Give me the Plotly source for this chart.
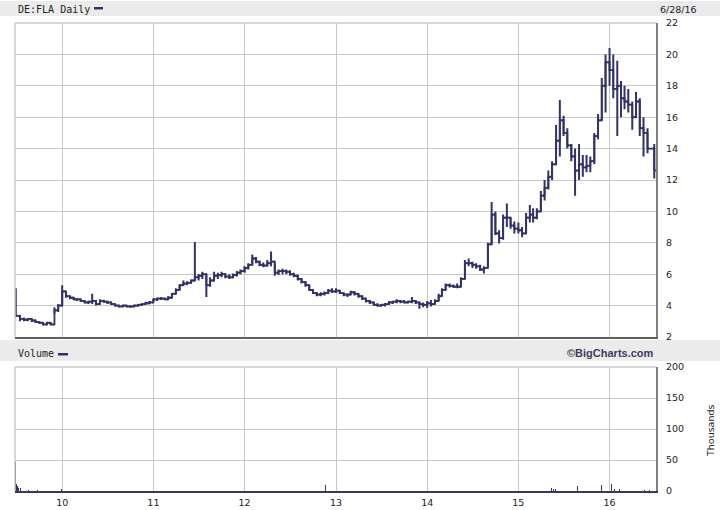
import plotly.graph_objects as go

# ---------------- data (~half-month bars) ----------------
dates = [
    "2009-06-29", "2009-07-16", "2009-08-01", "2009-08-16", "2009-09-01", "2009-09-16",
    "2009-10-01", "2009-10-16", "2009-11-01", "2009-11-16", "2009-12-01", "2009-12-16",
    "2010-01-01", "2010-01-16", "2010-02-01", "2010-02-16", "2010-03-01", "2010-03-16",
    "2010-04-01", "2010-04-16", "2010-05-01", "2010-05-16", "2010-06-01", "2010-06-16",
    "2010-07-01", "2010-07-16", "2010-08-01", "2010-08-16", "2010-09-01", "2010-09-16",
    "2010-10-01", "2010-10-16", "2010-11-01", "2010-11-16", "2010-12-01", "2010-12-16",
    "2011-01-01", "2011-01-16", "2011-02-01", "2011-02-16", "2011-03-01", "2011-03-16",
    "2011-04-01", "2011-04-16", "2011-05-01", "2011-05-16", "2011-06-01", "2011-06-16",
    "2011-07-01", "2011-07-16", "2011-08-01", "2011-08-16", "2011-09-01", "2011-09-16",
    "2011-10-01", "2011-10-16", "2011-11-01", "2011-11-16", "2011-12-01", "2011-12-16",
    "2012-01-01", "2012-01-16", "2012-02-01", "2012-02-16", "2012-03-01", "2012-03-16",
    "2012-04-01", "2012-04-16", "2012-05-01", "2012-05-16", "2012-06-01", "2012-06-16",
    "2012-07-01", "2012-07-16", "2012-08-01", "2012-08-16", "2012-09-01", "2012-09-16",
    "2012-10-01", "2012-10-16", "2012-11-01", "2012-11-16", "2012-12-01", "2012-12-16",
    "2013-01-01", "2013-01-16", "2013-02-01", "2013-02-16", "2013-03-01", "2013-03-16",
    "2013-04-01", "2013-04-16", "2013-05-01", "2013-05-16", "2013-06-01", "2013-06-16",
    "2013-07-01", "2013-07-16", "2013-08-01", "2013-08-16", "2013-09-01", "2013-09-16",
    "2013-10-01", "2013-10-16", "2013-11-01", "2013-11-16", "2013-12-01", "2013-12-16",
    "2014-01-01", "2014-01-16", "2014-02-01", "2014-02-16", "2014-03-01", "2014-03-16",
    "2014-04-01", "2014-04-16", "2014-05-01", "2014-05-16", "2014-06-01", "2014-06-16",
    "2014-07-01", "2014-07-16", "2014-08-01", "2014-08-16", "2014-09-01", "2014-09-16",
    "2014-10-01", "2014-10-16", "2014-11-01", "2014-11-16", "2014-12-01", "2014-12-16",
    "2015-01-01", "2015-01-16", "2015-02-01", "2015-02-16", "2015-03-01", "2015-03-16",
    "2015-04-01", "2015-04-16", "2015-05-01", "2015-05-16", "2015-06-01", "2015-06-16",
    "2015-07-01", "2015-07-16", "2015-08-01", "2015-08-16", "2015-09-01", "2015-09-16",
    "2015-10-01", "2015-10-16", "2015-11-01", "2015-11-16", "2015-12-01", "2015-12-16",
    "2016-01-01", "2016-01-16", "2016-02-01", "2016-02-16", "2016-03-01", "2016-03-16",
    "2016-04-01", "2016-04-16", "2016-05-01", "2016-05-16", "2016-06-01", "2016-06-28",
]

lows = [
    3.30, 3.00, 3.00, 3.00, 2.95, 2.90, 2.85, 2.75, 2.75, 2.75, 3.50, 3.60,
    4.00, 4.50, 4.40, 4.35, 4.30, 4.25, 4.15, 4.10, 4.10, 4.00, 4.20, 4.20,
    4.10, 4.05, 3.95, 3.90, 3.90, 3.90, 3.87, 3.90, 3.95, 4.00, 4.10, 4.10,
    4.25, 4.30, 4.35, 4.35, 4.35, 4.50, 4.75, 5.00, 5.30, 5.30, 5.40, 5.60,
    5.60, 5.70, 4.55, 5.20, 5.60, 5.70, 5.80, 5.75, 5.70, 5.75, 5.85, 6.00,
    6.10, 6.30, 6.60, 6.70, 6.50, 6.45, 6.50, 6.50, 5.90, 5.95, 6.00, 6.00,
    5.90, 5.80, 5.60, 5.40, 5.20, 4.95, 4.75, 4.60, 4.60, 4.65, 4.75, 4.80,
    4.80, 4.75, 4.60, 4.55, 4.70, 4.65, 4.50, 4.35, 4.20, 4.10, 4.00, 3.95,
    3.95, 3.95, 4.05, 4.10, 4.15, 4.15, 4.15, 4.15, 4.15, 4.10, 3.80, 3.90,
    3.85, 3.95, 4.10, 4.30, 4.60, 5.00, 5.15, 5.15, 5.10, 5.20, 5.70, 6.50,
    6.40, 6.35, 6.20, 6.05, 6.40, 7.90, 8.50, 7.95, 8.20, 9.00, 8.90, 8.60,
    8.60, 8.35, 8.60, 9.30, 9.30, 9.50, 10.0, 10.7, 11.4, 12.0, 13.0, 13.5,
    14.8, 14.0, 13.2, 11.0, 12.0, 12.2, 12.5, 12.5, 13.0, 14.6, 15.8, 16.3,
    18.0, 17.2, 14.8, 16.0, 16.5, 16.3, 15.2, 16.0, 14.8, 13.5, 13.7, 12.1,
]

highs = [
    5.10, 3.35, 3.25, 3.20, 3.15, 3.10, 3.00, 2.95, 2.95, 2.90, 3.90, 4.10,
    5.30, 4.90, 4.60, 4.55, 4.45, 4.40, 4.35, 4.30, 4.75, 4.35, 4.40, 4.38,
    4.30, 4.25, 4.10, 4.05, 4.05, 4.00, 4.00, 4.05, 4.10, 4.15, 4.25, 4.30,
    4.45, 4.50, 4.55, 4.50, 4.60, 4.80, 5.10, 5.35, 5.60, 5.55, 5.65, 8.05,
    6.00, 6.15, 6.00, 5.80, 6.15, 6.10, 6.15, 6.05, 6.00, 6.05, 6.20, 6.30,
    6.50, 6.70, 7.25, 7.10, 6.85, 6.75, 6.90, 7.45, 6.70, 6.30, 6.35, 6.30,
    6.25, 6.10, 5.95, 5.75, 5.55, 5.30, 5.00, 4.85, 4.85, 4.90, 5.05, 5.10,
    5.10, 5.00, 4.80, 4.75, 4.95, 4.90, 4.75, 4.65, 4.45, 4.35, 4.25, 4.15,
    4.10, 4.15, 4.30, 4.30, 4.40, 4.35, 4.35, 4.30, 4.55, 4.35, 4.25, 4.20,
    4.30, 4.35, 4.40, 4.75, 5.10, 5.40, 5.40, 5.35, 5.40, 5.80, 6.90, 7.00,
    6.80, 6.70, 6.60, 6.50, 8.00, 10.6, 10.0, 8.80, 9.80, 10.5, 9.60, 9.35,
    9.30, 9.00, 9.90, 10.4, 10.2, 10.2, 11.3, 12.0, 12.6, 13.2, 15.5, 17.1,
    16.1, 15.3, 14.3, 14.0, 14.3, 13.6, 13.6, 13.5, 15.0, 16.2, 18.5, 20.0,
    20.4, 20.0, 19.6, 18.3, 18.0, 17.8, 17.0, 17.6, 17.2, 16.0, 15.3, 14.3,
]

closes = [
    3.35, 3.15, 3.10, 3.15, 3.05, 2.95, 2.90, 2.80, 2.90, 2.80, 3.70, 4.00,
    4.90, 4.60, 4.50, 4.40, 4.40, 4.30, 4.20, 4.25, 4.30, 4.10, 4.30, 4.25,
    4.20, 4.10, 4.00, 3.95, 4.00, 3.95, 3.95, 4.00, 4.05, 4.10, 4.15, 4.20,
    4.40, 4.45, 4.45, 4.40, 4.50, 4.75, 5.00, 5.30, 5.40, 5.45, 5.60, 5.80,
    5.90, 6.00, 5.30, 5.60, 5.90, 5.95, 6.00, 5.85, 5.80, 5.95, 6.10, 6.20,
    6.40, 6.60, 7.00, 6.80, 6.60, 6.55, 6.70, 6.80, 6.10, 6.20, 6.20, 6.15,
    6.00, 5.90, 5.70, 5.50, 5.30, 5.00, 4.80, 4.70, 4.75, 4.80, 4.95, 4.90,
    4.95, 4.80, 4.70, 4.70, 4.85, 4.75, 4.60, 4.45, 4.30, 4.20, 4.05, 4.00,
    4.05, 4.10, 4.20, 4.25, 4.30, 4.25, 4.20, 4.25, 4.30, 4.20, 4.10, 4.05,
    4.15, 4.10, 4.30, 4.60, 5.00, 5.30, 5.25, 5.20, 5.20, 5.70, 6.70, 6.70,
    6.60, 6.50, 6.30, 6.40, 7.90, 9.80, 8.60, 8.30, 9.60, 9.60, 9.10, 8.90,
    8.80, 8.60, 9.60, 9.80, 9.60, 10.0, 11.0, 11.5, 12.2, 13.0, 14.5, 15.8,
    15.0, 14.2, 13.5, 12.6, 13.0, 12.8, 12.9, 13.2, 14.8, 15.8, 18.0, 19.5,
    19.0, 17.8, 18.0, 17.2, 17.0, 16.8, 16.0, 17.0, 15.3, 15.0, 14.0, 12.6,
]

vol_dates = [
    "2009-06-29", "2009-07-02", "2009-07-06", "2009-07-10", "2009-07-17", "2009-07-28",
    "2009-08-20", "2009-09-25", "2009-11-05", "2009-12-28", "2012-11-19",
    "2015-05-15", "2015-05-22", "2015-05-29", "2015-08-24", "2015-11-12",
    "2015-12-01", "2015-12-10", "2015-12-22", "2016-01-08", "2016-01-20",
    "2016-02-10", "2016-05-06", "2016-05-20", "2016-06-10",
]
vol_thousands = [
    47, 11, 8, 5, 5, 3,
    2, 2, 3, 4, 10,
    5, 3, 3, 8, 3,
    9, 4, 5, 11, 4,
    4, 2, 2, 2,
]

year_ticks = ["2010-01-01", "2011-01-01", "2012-01-01", "2013-01-01",
              "2014-01-01", "2015-01-01", "2016-01-01"]
year_labels = ["10", "11", "12", "13", "14", "15", "16"]
price_ticks = [2, 4, 6, 8, 10, 12, 14, 16, 18, 20, 22]
vol_ticks = [0, 50, 100, 150, 200]

# ---------------- styling ----------------
NAVY = "#333366"
GRID = "#c8c8c8"
W, H = 720, 510

def px_x(p):
    return p / W

def px_y(p):
    return 1 - p / H

XD = [px_x(15), px_x(656)]
Y_PRICE = [px_y(337), px_y(23)]
Y_VOL = [px_y(491), px_y(367)]
XRANGE = ["2009-06-26", "2016-07-05"]

opens = [closes[0]] + closes[:-1]

fig = go.Figure()

fig.add_trace(go.Scatter(
    x=dates, y=closes, mode="lines", line=dict(color=NAVY, width=1.8, shape="hv"),
    xaxis="x", yaxis="y", hoverinfo="skip", showlegend=False))

fig.add_trace(go.Ohlc(
    x=dates, open=opens, high=highs, low=lows, close=closes,
    increasing_line_color=NAVY, decreasing_line_color=NAVY,
    line_width=2, tickwidth=0.5, xaxis="x", yaxis="y",
    hoverinfo="skip", showlegend=False))

fig.add_trace(go.Bar(
    x=vol_dates, y=vol_thousands, marker_color=NAVY, marker_line_width=0,
    width=3.5 * 86400000, xaxis="x2", yaxis="y2", hoverinfo="skip",
    showlegend=False))

tick_font = dict(family="DejaVu Sans", size=9.5, color="#222222")

fig.update_layout(
    width=W, height=H,
    margin=dict(l=0, r=0, t=0, b=0, pad=0, autoexpand=False),
    paper_bgcolor="white", plot_bgcolor="white",
    showlegend=False,
    bargap=0,
    xaxis=dict(domain=XD, anchor="y", type="date", range=XRANGE, automargin=False,
               tickvals=year_ticks, ticktext=year_labels, showticklabels=False,
               showgrid=True, gridcolor=GRID, gridwidth=1,
               showline=True, linecolor="#606060", linewidth=2,
               ticks="", zeroline=False, rangeslider=dict(visible=False),
               fixedrange=True),
    yaxis=dict(domain=Y_PRICE, anchor="x", side="right", range=[2, 22], automargin=False,
               tickvals=price_ticks, showgrid=True, gridcolor=GRID, gridwidth=1,
               showline=True, linecolor="#808080", linewidth=2,
               ticks="outside", ticklen=6, tickcolor="rgba(0,0,0,0)",
               tickfont=tick_font, zeroline=False),
    xaxis2=dict(domain=XD, anchor="y2", type="date", range=XRANGE, automargin=False,
                tickvals=year_ticks, ticktext=year_labels, showticklabels=True,
                tickfont=tick_font,
                showgrid=True, gridcolor=GRID, gridwidth=1,
                showline=True, linecolor="#3a3a5a", linewidth=2,
                ticks="outside", ticklen=2, tickcolor="rgba(0,0,0,0)",
                zeroline=False),
    yaxis2=dict(domain=Y_VOL, anchor="x2", side="right", range=[0, 200], automargin=False,
                tickvals=vol_ticks, showgrid=True, gridcolor=GRID, gridwidth=1,
                showline=True, linecolor="#808080", linewidth=2,
                ticks="outside", ticklen=6, tickcolor="rgba(0,0,0,0)",
                tickfont=tick_font, zeroline=False),
)

shapes = []
# header bars
shapes.append(dict(type="rect", xref="paper", yref="paper", x0=0, x1=1,
                   y0=px_y(16), y1=px_y(1), fillcolor="#ebebeb", line_width=0, layer="below"))
shapes.append(dict(type="rect", xref="paper", yref="paper", x0=0, x1=1,
                   y0=px_y(361), y1=px_y(340), fillcolor="#ebebeb", line_width=0, layer="below"))
# legend dashes
shapes.append(dict(type="rect", xref="paper", yref="paper", x0=px_x(94), x1=px_x(103),
                   y0=px_y(9.5), y1=px_y(7), fillcolor=NAVY, line_width=0))
shapes.append(dict(type="rect", xref="paper", yref="paper", x0=px_x(58), x1=px_x(68),
                   y0=px_y(355.5), y1=px_y(353), fillcolor=NAVY, line_width=0))
# left / top light borders of both panels
for yd in (Y_PRICE, Y_VOL):
    shapes.append(dict(type="line", xref="paper", yref="paper", x0=XD[0], x1=XD[0],
                       y0=yd[0], y1=yd[1], line=dict(color=GRID, width=1.5)))
    shapes.append(dict(type="line", xref="paper", yref="paper", x0=XD[0], x1=XD[1],
                       y0=yd[1], y1=yd[1], line=dict(color=GRID, width=1.5)))
fig.update_layout(shapes=shapes)

hdr_font = dict(family="DejaVu Sans Mono", size=10, color="#222222")
annotations = [
    dict(text="DE:FLA Daily", x=px_x(16), y=px_y(9), xref="paper", yref="paper",
         xanchor="left", yanchor="middle", showarrow=False, font=hdr_font),
    dict(text="6/28/16", x=px_x(699), y=px_y(9), xref="paper", yref="paper",
         xanchor="right", yanchor="middle", showarrow=False,
         font=dict(family="DejaVu Sans", size=9.5, color="#222222")),
    dict(text="Volume", x=px_x(16), y=px_y(353), xref="paper", yref="paper",
         xanchor="left", yanchor="middle", showarrow=False, font=hdr_font),
    dict(text="<b>©BigCharts.com</b>", x=px_x(656), y=px_y(353), xref="paper", yref="paper",
         xanchor="right", yanchor="middle", showarrow=False,
         font=dict(family="Liberation Sans", size=11, color="#3c3c5e")),
    dict(text="Thousands", x=px_x(710), y=px_y(431), xref="paper", yref="paper",
         xanchor="center", yanchor="middle", showarrow=False, textangle=-90,
         font=dict(family="DejaVu Sans", size=9.5, color="#222222")),
]
fig.update_layout(annotations=annotations)

fig.write_html("out.html", config={"displayModeBar": False, "staticPlot": True},
               post_script="document.body.style.margin='0';")
